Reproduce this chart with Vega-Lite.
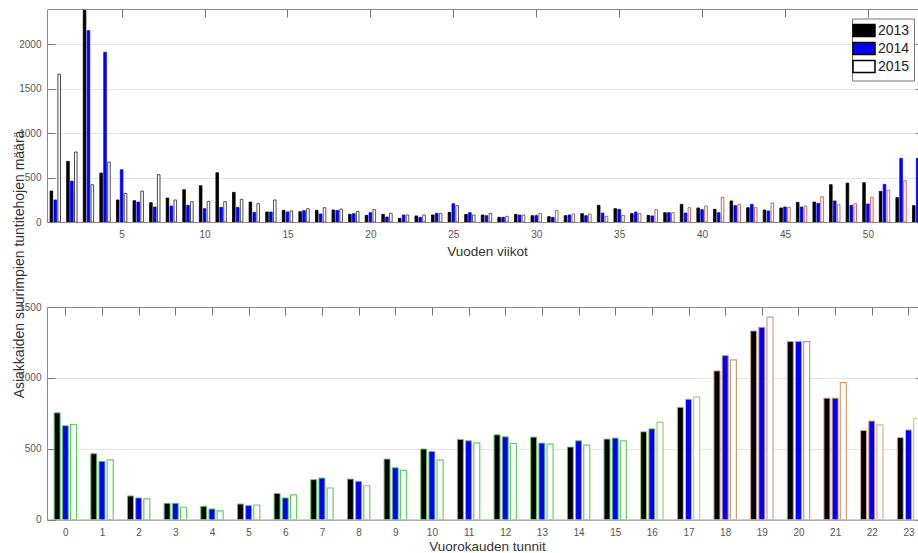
{
  "$schema": "https://vega.github.io/schema/vega-lite/v6.json",
  "background": "white",
  "padding": {"left": 12, "top": 8, "right": 0, "bottom": 0},
  "bounds": "flush",
  "spacing": 85,
  "config": {
    "view": {"stroke": null},
    "font": "Liberation Sans",
    "axis": {
      "labelFont": "Liberation Sans",
      "labelFontSize": 10,
      "labelColor": "#555555",
      "titleFont": "Liberation Sans",
      "titleFontWeight": "normal",
      "titleColor": "#333333",
      "domainColor": "#8a8a8a",
      "tickColor": "#777777",
      "gridColor": "#e6e6e6"
    }
  },
  "resolve": {"scale": {"stroke": "independent"}},
  "datasets": {
    "weeks": [
      {"w":1,"year":"2013","n":349},{"w":1,"year":"2014","n":248},{"w":1,"year":"2015","n":1665},
      {"w":2,"year":"2013","n":683},{"w":2,"year":"2014","n":461},{"w":2,"year":"2015","n":788},
      {"w":3,"year":"2013","n":2385},{"w":3,"year":"2014","n":2156},{"w":3,"year":"2015","n":420},
      {"w":4,"year":"2013","n":551},{"w":4,"year":"2014","n":1913},{"w":4,"year":"2015","n":675},
      {"w":5,"year":"2013","n":248},{"w":5,"year":"2014","n":589},{"w":5,"year":"2015","n":323},
      {"w":6,"year":"2013","n":240},{"w":6,"year":"2014","n":225},{"w":6,"year":"2015","n":349},
      {"w":7,"year":"2013","n":218},{"w":7,"year":"2014","n":169},{"w":7,"year":"2015","n":533},
      {"w":8,"year":"2013","n":270},{"w":8,"year":"2014","n":180},{"w":8,"year":"2015","n":248},
      {"w":9,"year":"2013","n":364},{"w":9,"year":"2014","n":188},{"w":9,"year":"2015","n":229},
      {"w":10,"year":"2013","n":409},{"w":10,"year":"2014","n":150},{"w":10,"year":"2015","n":233},
      {"w":11,"year":"2013","n":555},{"w":11,"year":"2014","n":165},{"w":11,"year":"2015","n":229},
      {"w":12,"year":"2013","n":334},{"w":12,"year":"2014","n":165},{"w":12,"year":"2015","n":255},
      {"w":13,"year":"2013","n":225},{"w":13,"year":"2014","n":109},{"w":13,"year":"2015","n":206},
      {"w":14,"year":"2013","n":113},{"w":14,"year":"2014","n":113},{"w":14,"year":"2015","n":248},
      {"w":15,"year":"2013","n":131},{"w":15,"year":"2014","n":113},{"w":15,"year":"2015","n":124},
      {"w":16,"year":"2013","n":116},{"w":16,"year":"2014","n":128},{"w":16,"year":"2015","n":150},
      {"w":17,"year":"2013","n":131},{"w":17,"year":"2014","n":90},{"w":17,"year":"2015","n":161},
      {"w":18,"year":"2013","n":135},{"w":18,"year":"2014","n":131},{"w":18,"year":"2015","n":146},
      {"w":19,"year":"2013","n":86},{"w":19,"year":"2014","n":94},{"w":19,"year":"2015","n":120},
      {"w":20,"year":"2013","n":75},{"w":20,"year":"2014","n":105},{"w":20,"year":"2015","n":139},
      {"w":21,"year":"2013","n":86},{"w":21,"year":"2014","n":56},{"w":21,"year":"2015","n":98},
      {"w":22,"year":"2013","n":41},{"w":22,"year":"2014","n":79},{"w":22,"year":"2015","n":79},
      {"w":23,"year":"2013","n":68},{"w":23,"year":"2014","n":53},{"w":23,"year":"2015","n":79},
      {"w":24,"year":"2013","n":79},{"w":24,"year":"2014","n":98},{"w":24,"year":"2015","n":98},
      {"w":25,"year":"2013","n":109},{"w":25,"year":"2014","n":206},{"w":25,"year":"2015","n":184},
      {"w":26,"year":"2013","n":86},{"w":26,"year":"2014","n":105},{"w":26,"year":"2015","n":79},
      {"w":27,"year":"2013","n":79},{"w":27,"year":"2014","n":71},{"w":27,"year":"2015","n":98},
      {"w":28,"year":"2013","n":53},{"w":28,"year":"2014","n":53},{"w":28,"year":"2015","n":64},
      {"w":29,"year":"2013","n":86},{"w":29,"year":"2014","n":79},{"w":29,"year":"2015","n":79},
      {"w":30,"year":"2013","n":71},{"w":30,"year":"2014","n":71},{"w":30,"year":"2015","n":98},
      {"w":31,"year":"2013","n":60},{"w":31,"year":"2014","n":53},{"w":31,"year":"2015","n":128},
      {"w":32,"year":"2013","n":71},{"w":32,"year":"2014","n":79},{"w":32,"year":"2015","n":90},
      {"w":33,"year":"2013","n":94},{"w":33,"year":"2014","n":71},{"w":33,"year":"2015","n":90},
      {"w":34,"year":"2013","n":188},{"w":34,"year":"2014","n":101},{"w":34,"year":"2015","n":64},
      {"w":35,"year":"2013","n":150},{"w":35,"year":"2014","n":143},{"w":35,"year":"2015","n":75},
      {"w":36,"year":"2013","n":94},{"w":36,"year":"2014","n":113},{"w":36,"year":"2015","n":94},
      {"w":37,"year":"2013","n":75},{"w":37,"year":"2014","n":68},{"w":37,"year":"2015","n":139},
      {"w":38,"year":"2013","n":105},{"w":38,"year":"2014","n":105},{"w":38,"year":"2015","n":105},
      {"w":39,"year":"2013","n":199},{"w":39,"year":"2014","n":101},{"w":39,"year":"2015","n":161},
      {"w":40,"year":"2013","n":158},{"w":40,"year":"2014","n":139},{"w":40,"year":"2015","n":180},
      {"w":41,"year":"2013","n":143},{"w":41,"year":"2014","n":105},{"w":41,"year":"2015","n":278},
      {"w":42,"year":"2013","n":237},{"w":42,"year":"2014","n":184},{"w":42,"year":"2015","n":199},
      {"w":43,"year":"2013","n":161},{"w":43,"year":"2014","n":199},{"w":43,"year":"2015","n":161},
      {"w":44,"year":"2013","n":135},{"w":44,"year":"2014","n":124},{"w":44,"year":"2015","n":214},
      {"w":45,"year":"2013","n":158},{"w":45,"year":"2014","n":169},{"w":45,"year":"2015","n":165},
      {"w":46,"year":"2013","n":221},{"w":46,"year":"2014","n":169},{"w":46,"year":"2015","n":180},
      {"w":47,"year":"2013","n":225},{"w":47,"year":"2014","n":210},{"w":47,"year":"2015","n":285},
      {"w":48,"year":"2013","n":420},{"w":48,"year":"2014","n":237},{"w":48,"year":"2015","n":195},
      {"w":49,"year":"2013","n":439},{"w":49,"year":"2014","n":188},{"w":49,"year":"2015","n":206},
      {"w":50,"year":"2013","n":443},{"w":50,"year":"2014","n":203},{"w":50,"year":"2015","n":278},
      {"w":51,"year":"2013","n":345},{"w":51,"year":"2014","n":424},{"w":51,"year":"2015","n":357},
      {"w":52,"year":"2013","n":274},{"w":52,"year":"2014","n":717},{"w":52,"year":"2015","n":465},
      {"w":53,"year":"2013","n":184},{"w":53,"year":"2014","n":717}
    ],
    "hours": [
      {"h":0,"year":"2013","n":753},{"h":0,"year":"2014","n":662},{"h":0,"year":"2015","n":671},
      {"h":1,"year":"2013","n":465},{"h":1,"year":"2014","n":411},{"h":1,"year":"2015","n":422},
      {"h":2,"year":"2013","n":167},{"h":2,"year":"2014","n":153},{"h":2,"year":"2015","n":146},
      {"h":3,"year":"2013","n":115},{"h":3,"year":"2014","n":115},{"h":3,"year":"2015","n":87},
      {"h":4,"year":"2013","n":94},{"h":4,"year":"2014","n":75},{"h":4,"year":"2015","n":61},
      {"h":5,"year":"2013","n":110},{"h":5,"year":"2014","n":99},{"h":5,"year":"2015","n":103},
      {"h":6,"year":"2013","n":185},{"h":6,"year":"2014","n":153},{"h":6,"year":"2015","n":174},
      {"h":7,"year":"2013","n":282},{"h":7,"year":"2014","n":293},{"h":7,"year":"2015","n":223},
      {"h":8,"year":"2013","n":286},{"h":8,"year":"2014","n":270},{"h":8,"year":"2015","n":239},
      {"h":9,"year":"2013","n":427},{"h":9,"year":"2014","n":366},{"h":9,"year":"2015","n":347},
      {"h":10,"year":"2013","n":498},{"h":10,"year":"2014","n":481},{"h":10,"year":"2015","n":422},
      {"h":11,"year":"2013","n":566},{"h":11,"year":"2014","n":556},{"h":11,"year":"2015","n":542},
      {"h":12,"year":"2013","n":598},{"h":12,"year":"2014","n":584},{"h":12,"year":"2015","n":537},
      {"h":13,"year":"2013","n":582},{"h":13,"year":"2014","n":540},{"h":13,"year":"2015","n":533},
      {"h":14,"year":"2013","n":512},{"h":14,"year":"2014","n":556},{"h":14,"year":"2015","n":526},
      {"h":15,"year":"2013","n":568},{"h":15,"year":"2014","n":575},{"h":15,"year":"2015","n":556},
      {"h":16,"year":"2013","n":620},{"h":16,"year":"2014","n":641},{"h":16,"year":"2015","n":688},
      {"h":17,"year":"2013","n":793},{"h":17,"year":"2014","n":850},{"h":17,"year":"2015","n":866},
      {"h":18,"year":"2013","n":1049},{"h":18,"year":"2014","n":1157},{"h":18,"year":"2015","n":1127},
      {"h":19,"year":"2013","n":1331},{"h":19,"year":"2014","n":1357},{"h":19,"year":"2015","n":1429},
      {"h":20,"year":"2013","n":1256},{"h":20,"year":"2014","n":1256},{"h":20,"year":"2015","n":1256},
      {"h":21,"year":"2013","n":857},{"h":21,"year":"2014","n":857},{"h":21,"year":"2015","n":966},
      {"h":22,"year":"2013","n":628},{"h":22,"year":"2014","n":696},{"h":22,"year":"2015","n":668},
      {"h":23,"year":"2013","n":579},{"h":23,"year":"2014","n":633},{"h":23,"year":"2015","n":715}
    ]
  },
  "vconcat": [
    {
      "width": 871,
      "height": 213,
      "data": {"name": "weeks"},
      "resolve": {"axis": {"x": "independent", "y": "independent"}},
      "layer": [
        {
          "transform": [{"filter": "datum.year === '2013'"}],
          "mark": {"type": "bar", "width": 2.6, "xOffset": -3.9, "stroke": "#000000", "strokeWidth": 0.8, "clip": true},
          "encoding": {
            "x": {"field": "w", "type": "quantitative",
                  "scale": {"domain": [0.5, 53.02], "nice": false, "zero": false, "padding": 0},
                  "axis": {"orient": "bottom", "values": [5,10,15,20,25,30,35,40,45,50], "format": "d",
                           "tickSize": -8, "labelPadding": 15.5, "grid": false,
                           "title": "Vuoden viikot", "titleFontSize": 13.5, "titleX": 440, "titleY": 33.5,
                           "titleAlign": "center", "titleBaseline": "alphabetic"}},
            "y": {"field": "n", "type": "quantitative",
                  "scale": {"domain": [0, 2400], "nice": false},
                  "axis": {"orient": "left", "values": [0,500,1000,1500,2000], "format": "d",
                           "tickSize": -8, "labelPadding": 14, "grid": true,
                           "title": "Asiakkaiden suurimpien tuntitehojen määrä", "titleFontSize": 14,
                           "titleX": -23.5, "titleY": 255, "titleAngle": -90,
                           "titleAlign": "center", "titleBaseline": "alphabetic"}},
            "fill": {"field": "year", "type": "nominal",
                     "scale": {"domain": ["2013","2014","2015"], "range": ["#000000","#0000ff","#ffffff"]},
                     "legend": {"orient": "none", "legendX": 805, "legendY": 9.5, "title": null,
                                "fillColor": "#ffffff", "strokeColor": "#777777", "padding": 4, "cornerRadius": 0,
                                "symbolType": "M-1.57,-0.86H1.57V0.86H-1.57Z", "symbolSize": 196,
                                "labelFont": "Liberation Sans", "labelFontSize": 14, "labelColor": "#222222",
                                "labelOffset": 6, "rowPadding": -2.5,
                                "encode": {"symbols": {"update": {"stroke": {"value": "#555555"}, "strokeWidth": {"value": 1}}}}}}
          }
        },
        {
          "transform": [{"filter": "datum.year === '2014'"}],
          "mark": {"type": "bar", "width": 2.6, "xOffset": 0, "stroke": "#0000ff", "strokeWidth": 0.8, "clip": true},
          "encoding": {
            "x": {"field": "w", "type": "quantitative", "axis": null},
            "y": {"field": "n", "type": "quantitative", "axis": null},
            "fill": {"field": "year", "type": "nominal"}
          }
        },
        {
          "transform": [{"filter": "datum.year === '2015'"}],
          "mark": {"type": "bar", "width": 2.6, "xOffset": 3.9, "strokeWidth": 0.9, "clip": true},
          "encoding": {
            "x": {"field": "w", "type": "quantitative",
                  "axis": {"orient": "top", "values": [5,10,15,20,25,30,35,40,45,50], "labels": false,
                           "tickSize": -8, "grid": false, "title": null}},
            "y": {"field": "n", "type": "quantitative",
                  "axis": {"orient": "right", "values": [0,500,1000,1500,2000], "labels": false,
                           "domain": false, "tickSize": -3, "grid": false, "title": null}},
            "fill": {"field": "year", "type": "nominal"},
            "stroke": {"field": "w", "type": "quantitative", "legend": null,
                       "scale": {"domain": [1, 26, 31, 40, 52],
                                 "range": ["#333333", "#4a4a4a", "#8a5a5a", "#b05555", "#e05555"]}}
          }
        }
      ]
    },
    {
      "width": 871,
      "height": 212.6,
      "data": {"name": "hours"},
      "resolve": {"axis": {"x": "independent", "y": "independent"}},
      "encoding": {
        "stroke": {"field": "h", "type": "quantitative", "legend": null,
                   "scale": {"domain": [0, 15, 16, 17, 18, 19, 20, 21, 22, 23],
                             "range": ["#66cc66", "#70cc66", "#a0d070", "#c8c888", "#c8a070", "#d0a090", "#c89880", "#d8a070", "#dcb080", "#e6b878"]}}
      },
      "layer": [
        {
          "transform": [{"filter": "datum.year === '2013'"}],
          "mark": {"type": "bar", "width": 6, "xOffset": -8.2, "strokeWidth": 1, "clip": true},
          "encoding": {
            "x": {"field": "h", "type": "quantitative",
                  "scale": {"domain": [-0.5, 23.26], "nice": false, "zero": false, "padding": 0},
                  "axis": {"orient": "bottom", "values": [0,1,2,3,4,5,6,7,8,9,10,11,12,13,14,15,16,17,18,19,20,21,22,23],
                           "format": "d", "tickSize": -8, "labelPadding": 15.5, "grid": false,
                           "title": "Vuorokauden tunnit", "titleFontSize": 13.5, "titleX": 440, "titleY": 31,
                           "titleAlign": "center", "titleBaseline": "alphabetic"}},
            "y": {"field": "n", "type": "quantitative",
                  "scale": {"domain": [0, 1500], "nice": false},
                  "axis": {"orient": "left", "values": [0,500,1000,1500], "format": "d",
                           "tickSize": -8, "labelPadding": 14, "grid": true, "title": null}},
            "fill": {"field": "year", "type": "nominal"}
          }
        },
        {
          "transform": [{"filter": "datum.year === '2014'"}],
          "mark": {"type": "bar", "width": 6, "xOffset": 0, "strokeWidth": 1, "clip": true},
          "encoding": {
            "x": {"field": "h", "type": "quantitative", "axis": null},
            "y": {"field": "n", "type": "quantitative", "axis": null},
            "fill": {"field": "year", "type": "nominal"}
          }
        },
        {
          "transform": [{"filter": "datum.year === '2015'"}],
          "mark": {"type": "bar", "width": 6, "xOffset": 8.2, "strokeWidth": 1.2, "clip": true},
          "encoding": {
            "x": {"field": "h", "type": "quantitative",
                  "axis": {"orient": "top", "values": [0,1,2,3,4,5,6,7,8,9,10,11,12,13,14,15,16,17,18,19,20,21,22,23],
                           "labels": false, "tickSize": -8, "grid": false, "title": null}},
            "y": {"field": "n", "type": "quantitative",
                  "axis": {"orient": "right", "values": [0,500,1000,1500], "labels": false,
                           "domain": false, "tickSize": -3, "grid": false, "title": null}},
            "fill": {"field": "year", "type": "nominal"}
          }
        }
      ]
    }
  ]
}
